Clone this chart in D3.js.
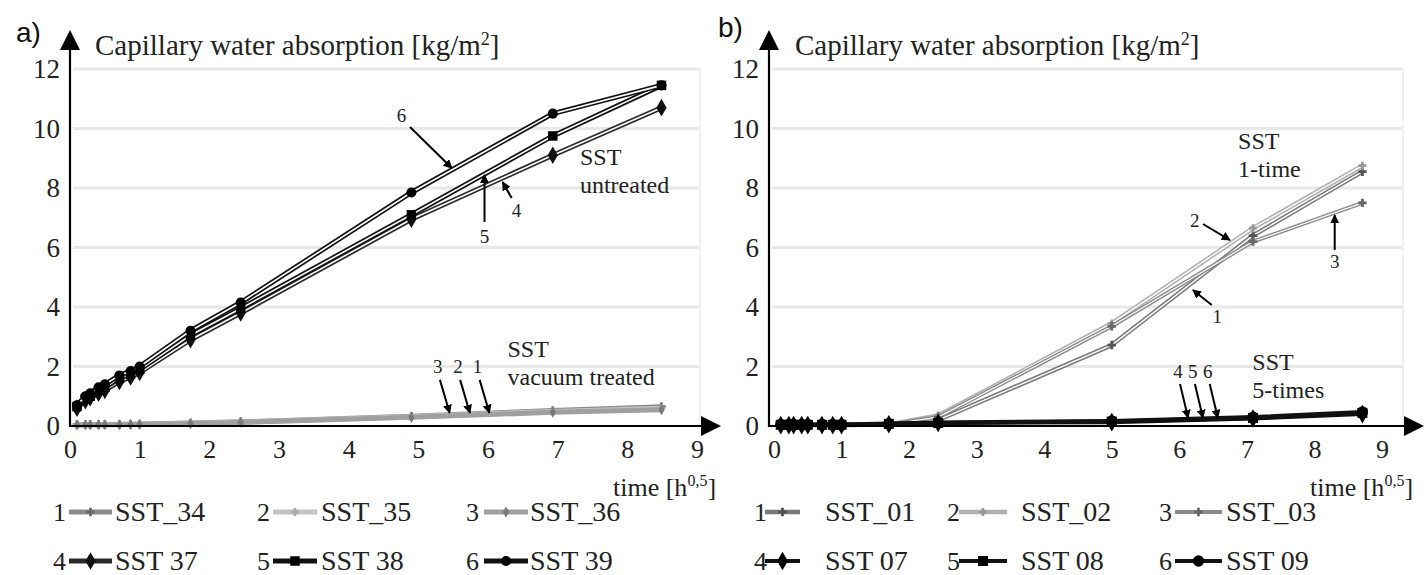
<!DOCTYPE html>
<html>
<head>
<meta charset="utf-8">
<script src="https://cdn.jsdelivr.net/npm/d3@7"></script>
<style>
  body { margin: 0; background: #fff; }
  svg { display: block; }
  svg text { font-family: "Liberation Serif", "Times New Roman", serif; }
  svg text.tag { font-family: "Liberation Sans", Arial, sans-serif; }
</style>
</head>
<body>
<div class="container"></div>
<script>
const width = 1426, height = 575;

// time in h^0.5
const timeA = [0.1, 0.22, 0.29, 0.41, 0.5, 0.71, 0.87, 1.0, 1.73, 2.45, 4.9, 6.93, 8.49];
const timeB = [0.1, 0.22, 0.29, 0.41, 0.5, 0.71, 0.87, 1.0, 1.7, 2.43, 5.0, 7.09, 8.71];

// panel a: capillary water absorption [kg/m2]
const sst34 = [0.05, 0.05, 0.05, 0.05, 0.05, 0.06, 0.06, 0.07, 0.1, 0.14, 0.33, 0.52, 0.65];
const sst35 = [0.04, 0.04, 0.04, 0.04, 0.05, 0.05, 0.05, 0.06, 0.09, 0.13, 0.31, 0.49, 0.6];
const sst36 = [0.03, 0.03, 0.03, 0.04, 0.04, 0.04, 0.05, 0.05, 0.08, 0.12, 0.29, 0.46, 0.55];
const sst37 = [0.6, 0.85, 0.95, 1.1, 1.2, 1.5, 1.65, 1.8, 2.9, 3.8, 6.95, 9.1, 10.7];
const sst38 = [0.65, 0.9, 1.0, 1.2, 1.3, 1.6, 1.75, 1.9, 3.05, 3.95, 7.1, 9.75, 11.45];
const sst39 = [0.7, 1.0, 1.1, 1.3, 1.4, 1.7, 1.85, 2.0, 3.2, 4.15, 7.85, 10.5, 11.45];

// panel b
const sst01 = [0.03, 0.03, 0.03, 0.03, 0.03, 0.03, 0.03, 0.03, 0.05, 0.2, 2.72, 6.4, 8.55];
const sst02 = [0.03, 0.03, 0.03, 0.03, 0.03, 0.03, 0.03, 0.03, 0.05, 0.35, 3.45, 6.65, 8.75];
const sst03 = [0.03, 0.03, 0.03, 0.03, 0.03, 0.03, 0.03, 0.03, 0.05, 0.3, 3.35, 6.2, 7.5];
const sst07 = [0.03, 0.03, 0.03, 0.03, 0.03, 0.03, 0.03, 0.03, 0.06, 0.1, 0.13, 0.25, 0.4];
const sst08 = [0.04, 0.04, 0.04, 0.04, 0.04, 0.04, 0.04, 0.04, 0.07, 0.1, 0.15, 0.27, 0.44];
const sst09 = [0.05, 0.05, 0.05, 0.05, 0.05, 0.05, 0.05, 0.05, 0.08, 0.12, 0.17, 0.3, 0.47];

const namesA = ['SST_34', 'SST_35', 'SST_36', 'SST 37', 'SST 38', 'SST 39'];
const namesB = ['SST_01', 'SST_02', 'SST_03', 'SST 07', 'SST 08', 'SST 09'];
const yTicks = [0, 2, 4, 6, 8, 10, 12];
const xTicks = [0, 1, 2, 3, 4, 5, 6, 7, 8, 9];

const svg = d3.select('.container')
    .append('svg')
    .attr('width', width)
    .attr('height', height);

const defs = svg.append('defs');
defs.append('marker')
    .attr('id', 'head')
    .attr('viewBox', '0 0 10 10')
    .attr('refX', 9).attr('refY', 5)
    .attr('markerWidth', 9).attr('markerHeight', 9)
    .attr('markerUnits', 'userSpaceOnUse')
    .attr('orient', 'auto')
    .append('path')
    .attr('d', 'M0,0L10,5L0,10Z')
    .attr('fill', '#000');

const panels = [
    {
        tag: 'a)', tagX: 16, tagY: 42,
        x: d3.scaleLinear().domain([0, 9]).range([70, 697]),
        y: d3.scaleLinear().domain([0, 12]).range([426, 69]),
        axisX: 70, gridEnd: 700, arrowEnd: 721, titleX: 95, timeX: 613,
        times: timeA,
        series: [sst34, sst35, sst36, sst37, sst38, sst39],
        names: namesA,
        styles: [
            { color: '#8c8c8c', w: 5, symbol: d3.symbolCross, size: 40, mc: '#6a6a6a' },
            { color: '#c4c4c4', w: 5, symbol: d3.symbolCross, size: 35, mc: '#aaa' },
            { color: '#a0a0a0', w: 5, symbol: d3.symbolDiamond, size: 35, mc: '#7a7a7a' },
            { color: '#2a2a2a', w: 5, core: 1.6, symbol: d3.symbolDiamond, size: 90, mc: '#111' },
            { color: '#111', w: 5, core: 1.6, symbol: d3.symbolSquare, size: 90, mc: '#000' },
            { color: '#111', w: 5, core: 1.6, symbol: d3.symbolCircle, size: 80, mc: '#000' }
        ],
        legend: { num: [53, 257, 466], l0: [69, 273, 484], l1: [112, 317, 528], text: [115, 321, 530] },
        notes: [
            { t: 7.32, v: 8.78, text: 'SST' },
            { t: 7.32, v: 7.83, text: 'untreated' },
            { t: 6.28, v: 2.33, text: 'SST' },
            { t: 6.28, v: 1.38, text: 'vacuum treated' }
        ],
        arrows: [
            { text: '6', lt: 4.76, lv: 10.22, from: [4.88, 10.05], to: [5.48, 8.67] },
            { text: '5', lt: 5.95, lv: 6.15, from: [5.95, 6.86], to: [5.95, 8.44] },
            { text: '4', lt: 6.41, lv: 7.03, from: [6.34, 7.66], to: [6.21, 8.2] },
            { text: '3', lt: 5.28, lv: 1.78, from: [5.31, 1.55], to: [5.45, 0.44] },
            { text: '2', lt: 5.57, lv: 1.78, from: [5.6, 1.55], to: [5.74, 0.44] },
            { text: '1', lt: 5.85, lv: 1.78, from: [5.88, 1.55], to: [6.02, 0.44] }
        ]
    },
    {
        tag: 'b)', tagX: 718, tagY: 37,
        x: d3.scaleLinear().domain([0, 9]).range([774, 1382]),
        y: d3.scaleLinear().domain([0, 12]).range([426, 69]),
        axisX: 769, gridEnd: 1403, arrowEnd: 1424, titleX: 795, timeX: 1310,
        times: timeB,
        series: [sst01, sst02, sst03, sst07, sst08, sst09],
        names: namesB,
        styles: [
            { color: '#7a7a7a', w: 4.5, core: 1.4, symbol: d3.symbolCross, size: 40, mc: '#555' },
            { color: '#b0b0b0', w: 4.5, core: 1.4, symbol: d3.symbolCross, size: 35, mc: '#999' },
            { color: '#8a8a8a', w: 4, core: 1.2, symbol: d3.symbolCross, size: 40, mc: '#666' },
            { color: '#111', w: 4, symbol: d3.symbolDiamond, size: 100, mc: '#000' },
            { color: '#111', w: 4, symbol: d3.symbolSquare, size: 100, mc: '#000' },
            { color: '#111', w: 4, symbol: d3.symbolCircle, size: 100, mc: '#000' }
        ],
        legend: { num: [754, 947, 1159], l0: [765, 959, 1175], l1: [800, 1007, 1222], text: [825, 1021, 1226] },
        notes: [
            { t: 6.87, v: 9.32, text: 'SST' },
            { t: 6.87, v: 8.37, text: '1-time' },
            { t: 7.08, v: 1.89, text: 'SST' },
            { t: 7.08, v: 0.94, text: '5-times' }
        ],
        arrows: [
            { text: '2', lt: 6.23, lv: 6.69, from: [6.35, 6.79], to: [6.75, 6.25] },
            { text: '3', lt: 8.3, lv: 5.31, from: [8.3, 5.92], to: [8.3, 7.09] },
            { text: '1', lt: 6.56, lv: 3.46, from: [6.48, 4.07], to: [6.2, 4.57] },
            { text: '4', lt: 5.98, lv: 1.61, from: [6.01, 1.41], to: [6.13, 0.27] },
            { text: '5', lt: 6.2, lv: 1.61, from: [6.23, 1.41], to: [6.35, 0.27] },
            { text: '6', lt: 6.42, lv: 1.61, from: [6.45, 1.41], to: [6.57, 0.27] }
        ]
    }
];

panels.forEach(p => {
    const g = svg.append('g');
    const x = p.x, y = p.y;

    // grid
    g.append('g')
        .selectAll('line')
        .data(yTicks.filter(d => d > 0))
        .enter()
        .append('line')
        .attr('x1', p.axisX + 3)
        .attr('x2', p.gridEnd)
        .attr('y1', d => y(d))
        .attr('y2', d => y(d))
        .attr('stroke', '#e8e8e8')
        .attr('stroke-width', 3);

    g.append('line')
        .attr('x1', p.gridEnd).attr('x2', p.gridEnd)
        .attr('y1', y(12)).attr('y2', y(0))
        .attr('stroke', '#f0f0f0')
        .attr('stroke-width', 2);

    // tick labels
    g.append('g')
        .attr('transform', `translate(${p.axisX},0)`)
        .call(d3.axisLeft(y).tickValues(yTicks).tickSize(0).tickPadding(10).tickFormat(d3.format('d')))
        .call(s => s.select('.domain').remove())
        .selectAll('text')
        .attr('font-size', 27)
        .attr('fill', '#222');

    g.append('g')
        .attr('transform', `translate(0,${y(0)})`)
        .call(d3.axisBottom(x).tickValues(xTicks).tickSize(0).tickPadding(14).tickFormat(d3.format('d')))
        .call(s => s.select('.domain').remove())
        .selectAll('text')
        .attr('font-size', 26)
        .attr('fill', '#222');

    // series
    const line = d3.line()
        .x(d => x(d[0]))
        .y(d => y(d[1]));

    p.series.forEach((vals, i) => {
        const st = p.styles[i];
        const pts = vals.map((v, k) => [p.times[k], v]);
        const sg = g.append('g');
        sg.append('path')
            .attr('d', line(pts))
            .attr('fill', 'none')
            .attr('stroke', st.color)
            .attr('stroke-width', st.w)
            .attr('stroke-linejoin', 'round');
        if (st.core) {
            sg.append('path')
                .attr('d', line(pts))
                .attr('fill', 'none')
                .attr('stroke', '#fff')
                .attr('stroke-width', st.core);
        }
        sg.selectAll('.pt')
            .data(pts)
            .enter()
            .append('path')
            .attr('class', 'pt')
            .attr('transform', d => `translate(${x(d[0])},${y(d[1])})`)
            .attr('d', d3.symbol().type(st.symbol).size(st.size))
            .attr('fill', st.mc);
    });

    // axes with arrows
    g.append('line')
        .attr('x1', p.axisX).attr('x2', p.axisX)
        .attr('y1', y(0) + 1).attr('y2', 48)
        .attr('stroke', '#000').attr('stroke-width', 2.2);
    g.append('path')
        .attr('d', `M${p.axisX},30L${p.axisX + 10},50L${p.axisX - 10},50Z`)
        .attr('fill', '#000');
    g.append('line')
        .attr('x1', p.axisX - 1).attr('x2', p.arrowEnd - 18)
        .attr('y1', y(0)).attr('y2', y(0))
        .attr('stroke', '#000').attr('stroke-width', 2.2);
    g.append('path')
        .attr('d', `M${p.arrowEnd},${y(0)}L${p.arrowEnd - 20},${y(0) - 10}L${p.arrowEnd - 20},${y(0) + 10}Z`)
        .attr('fill', '#000');

    // labels
    g.append('text')
        .attr('class', 'tag')
        .attr('x', p.tagX).attr('y', p.tagY)
        .attr('font-size', 28)
        .attr('fill', '#111')
        .text(p.tag);

    const title = g.append('text')
        .attr('x', p.titleX).attr('y', 55)
        .attr('font-size', 29)
        .attr('fill', '#222');
    title.append('tspan').text('Capillary water absorption [kg/m');
    title.append('tspan').attr('font-size', 18).attr('dy', -10).text('2');
    title.append('tspan').attr('dy', 10).text(']');

    const tl = g.append('text')
        .attr('x', p.timeX).attr('y', 496)
        .attr('font-size', 26)
        .attr('fill', '#222');
    tl.append('tspan').text('time [h');
    tl.append('tspan').attr('font-size', 16).attr('dy', -10).text('0,5');
    tl.append('tspan').attr('dy', 10).text(']');

    p.notes.forEach(n => {
        g.append('text')
            .attr('x', x(n.t)).attr('y', y(n.v))
            .attr('font-size', 24)
            .attr('fill', '#222')
            .text(n.text);
    });

    p.arrows.forEach(a => {
        g.append('text')
            .attr('x', x(a.lt)).attr('y', y(a.lv))
            .attr('text-anchor', 'middle')
            .attr('font-size', 19)
            .attr('fill', '#222')
            .text(a.text);
        g.append('line')
            .attr('x1', x(a.from[0])).attr('y1', y(a.from[1]))
            .attr('x2', x(a.to[0])).attr('y2', y(a.to[1]))
            .attr('stroke', '#000')
            .attr('stroke-width', 2)
            .attr('marker-end', 'url(#head)');
    });

    // legend
    const rows = [521, 570];
    p.names.forEach((name, i) => {
        const col = i % 3, row = Math.floor(i / 3);
        const st = p.styles[i];
        const ly = rows[row] - 9;
        const lg = g.append('g');
        lg.append('text')
            .attr('x', p.legend.num[col]).attr('y', rows[row])
            .attr('font-size', 26)
            .attr('fill', '#222')
            .text(i + 1);
        lg.append('line')
            .attr('x1', p.legend.l0[col]).attr('x2', p.legend.l1[col])
            .attr('y1', ly).attr('y2', ly)
            .attr('stroke', st.color)
            .attr('stroke-width', st.w);
        lg.append('path')
            .attr('transform', `translate(${(p.legend.l0[col] + p.legend.l1[col]) / 2},${ly})`)
            .attr('d', d3.symbol().type(st.symbol).size(st.size))
            .attr('fill', st.mc);
        lg.append('text')
            .attr('x', p.legend.text[col]).attr('y', rows[row])
            .attr('font-size', 28)
            .attr('fill', '#222')
            .text(name);
    });
});
</script>
</body>
</html>
